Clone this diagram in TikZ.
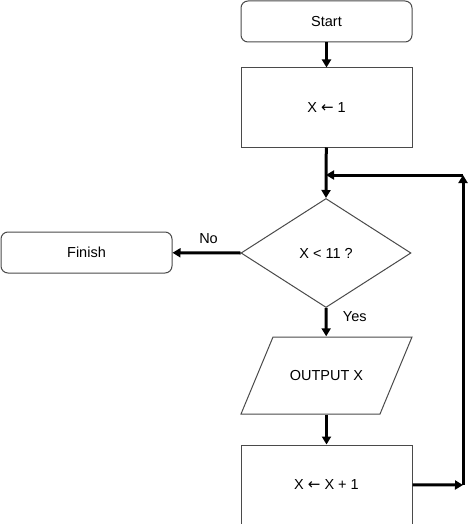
\documentclass[tikz,border=0pt]{standalone}
\usepackage{fontspec}
\setmainfont{Liberation Sans}
\newfontfamily\arrowfont{DejaVu Sans}
\usetikzlibrary{arrows.meta, positioning, shapes.geometric}
\definecolor{BoxEdge}{HTML}{4A4A4A}
\newcommand{\getsarrow}{{\arrowfont\fontsize{15}{17}\selectfont ←}}

\begin{document}
\begin{tikzpicture}[x=1pt, y=-1pt, font=\fontsize{14.5}{17}\selectfont,
    box/.style={draw=BoxEdge, line width=1pt, fill=white, minimum width=171pt, minimum height=79pt, inner sep=0pt},
    terminal/.style={box, rounded corners=7pt, minimum height=41pt},
    decision/.style={draw=BoxEdge, line width=1pt, fill=white, diamond, aspect=1.56, minimum width=170pt, minimum height=109pt, inner sep=0pt},
    io/.style={minimum width=110pt, minimum height=78pt, inner sep=0pt},
    flow/.style={line width=3pt, -{Triangle[width=9pt, length=8pt]}}]
    \useasboundingbox (0,0) rectangle (474,524);
    % nodes
    \node[terminal] (start) at (326.5,21.5) {Start};
    \node[box] (init) at (326.5,107.5) {X \getsarrow{} 1};
    \node[decision] (test) at (326,253) {X < 11 ?};
    \node[terminal] (finish) at (86.5,252.5) {Finish};
    \draw[BoxEdge, line width=1pt] (241,414) -- (273,337) -- (412,337) -- (380,414) -- cycle;
    \node[io] (out) at (326.5,375.5) {OUTPUT X};
    \node[box] (inc) at (326.5,484.5) {X \getsarrow{} X + 1};
    \coordinate (loopR) at (463,485);
    \coordinate (loopT) at (463,175);
    \coordinate (join) at (326,175);
    % connectors
    \draw[flow] (start) -- (init);
    \draw[flow] (init) -- (test.north);
    \draw[flow] (test.west) -- (finish) node[pos=0.47, above=4pt] (no) {No};
    \draw[flow] (test.south) -- (out) node[pos=0.3, right=12pt] (yes) {Yes};
    \draw[flow] (out) -- (inc);
    \draw[flow] (inc) -- (loopR);
    \draw[flow] (loopR) -- (loopT);
    \draw[flow] (loopT) -- (join);
\end{tikzpicture}
\end{document}
